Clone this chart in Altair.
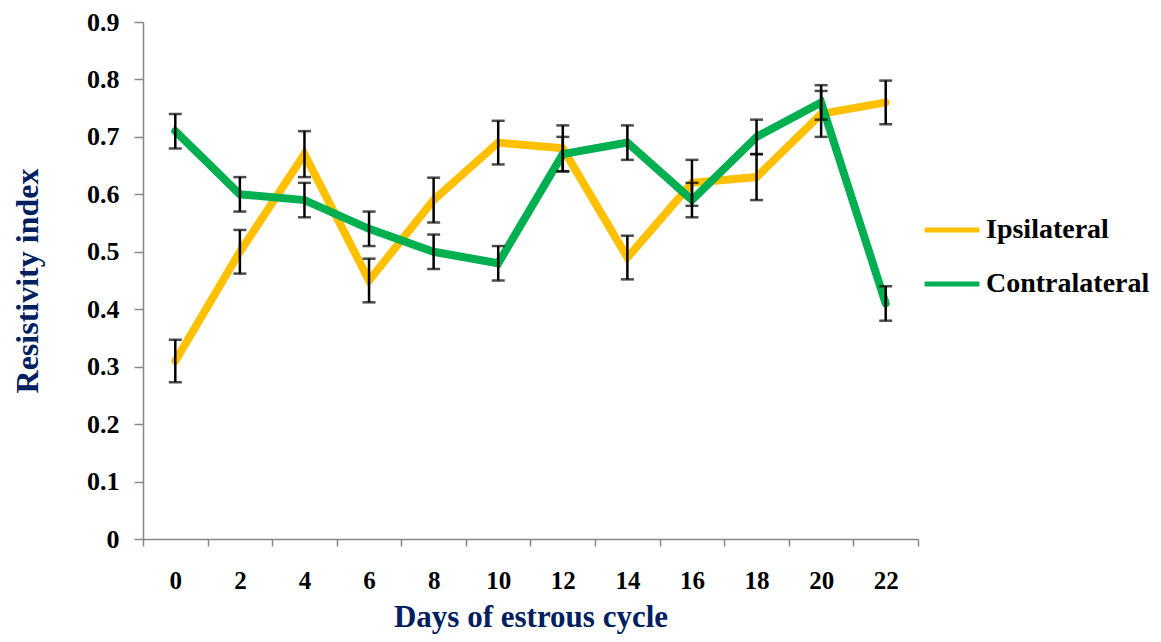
import altair as alt
import pandas as pd

days = [0, 2, 4, 6, 8, 10, 12, 14, 16, 18, 20, 22]
ipsi = [0.31, 0.50, 0.67, 0.45, 0.59, 0.69, 0.68, 0.49, 0.62, 0.63, 0.74, 0.76]
ipsi_err = [0.037, 0.038, 0.04, 0.038, 0.039, 0.038, 0.04, 0.038, 0.04, 0.04, 0.04, 0.038]
contra = [0.71, 0.60, 0.59, 0.54, 0.50, 0.48, 0.67, 0.69, 0.59, 0.70, 0.76, 0.41]
contra_err = [0.03, 0.03, 0.03, 0.03, 0.03, 0.03, 0.03, 0.03, 0.03, 0.03, 0.03, 0.03]
series = ["Ipsilateral", "Contralateral"]
colors = ["#FFC000", "#00B050"]

rows = []
for name, vals, errs in [(series[0], ipsi, ipsi_err), (series[1], contra, contra_err)]:
    for d, v, e in zip(days, vals, errs):
        rows.append({"day": d, "value": v, "lo": v - e, "hi": v + e, "series": name, "order": series.index(name)})
df = pd.DataFrame(rows)

FONT = "Liberation Serif"
TITLE_COLOR = "#002060"

x_enc = alt.X(
    "day:O",
    bandPosition=0.5,
    scale=alt.Scale(type="band", paddingInner=0, paddingOuter=0),
    axis=alt.Axis(
        title="Days of estrous cycle",
        tickBand="extent",
        labelAngle=0,
        labelFontSize=25,
        labelFontWeight="bold",
        labelColor="black",
        labelPadding=22,
        tickSize=7,
        titleFontSize=31,
        titleFontWeight="bold",
        titleColor=TITLE_COLOR,
        titlePadding=9,
    ),
)

y_scale = alt.Scale(domain=[0, 0.9], nice=False, zero=True)
y_axis = alt.Axis(
    title="Resistivity index",
    values=[0, 0.1, 0.2, 0.3, 0.4, 0.5, 0.6, 0.7, 0.8, 0.9],
    labelExpr="datum.value == 0 ? '0' : format(datum.value, '.1f')",
    labelFontSize=26,
    labelFontWeight="bold",
    labelColor="black",
    labelPadding=15,
    tickSize=9,
    titleFontSize=32,
    titleFontWeight="bold",
    titleColor=TITLE_COLOR,
    titlePadding=42,
)

base = alt.Chart(df)

lines = base.mark_line(strokeWidth=8, strokeCap="round", strokeJoin="miter").encode(
    x=x_enc,
    y=alt.Y("value:Q", scale=y_scale, axis=y_axis),
    color=alt.Color(
        "series:N",
        scale=alt.Scale(domain=series, range=colors),
        sort=series,
        legend=alt.Legend(
            title=None,
            orient="none",
            legendX=779,
            legendY=178,
            symbolType="stroke",
            symbolStrokeWidth=5,
            symbolSize=3000,
            labelFontSize=28,
            labelFontWeight="bold",
            labelColor="black",
            labelOffset=4,
            labelLimit=400,
            rowPadding=10,
        ),
    ),
    detail="series:N",
    order="order:Q",
)

rules = base.mark_rule(color="black", strokeWidth=2.5).encode(
    x=x_enc,
    y=alt.Y("lo:Q", scale=y_scale),
    y2="hi:Q",
)

caps_lo = base.mark_tick(color="black", thickness=2.5, size=13, orient="horizontal").encode(
    x=x_enc,
    y=alt.Y("lo:Q", scale=y_scale),
)
caps_hi = base.mark_tick(color="black", thickness=2.5, size=13, orient="horizontal").encode(
    x=x_enc,
    y=alt.Y("hi:Q", scale=y_scale),
)

chart = (
    alt.layer(lines, rules, caps_lo, caps_hi)
    .properties(
        width=775,
        height=517,
        autosize=alt.AutoSizeParams(type="none"),
        padding={"left": 135, "top": 14, "right": 235, "bottom": 95},
        background="white",
    )
    .configure_view(stroke=None)
    .configure_axis(
        grid=False,
        domainColor="#868686",
        tickColor="#868686",
        domainWidth=1.5,
        tickWidth=1.5,
        labelFont=FONT,
        titleFont=FONT,
    )
    .configure_legend(labelFont=FONT)
    .configure_text(font=FONT)
)

chart.save("out.html", embed_options={"renderer": "svg", "actions": False})
